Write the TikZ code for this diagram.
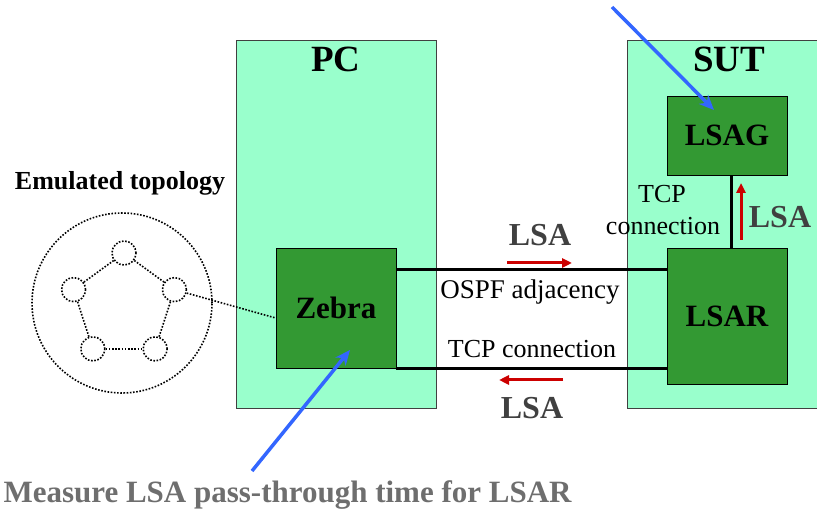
\documentclass[tikz,border=0pt]{standalone}
\usepackage{fontspec}
\setmainfont{Liberation Serif}[BoldFont={Liberation Serif Bold}]
\usetikzlibrary{arrows.meta,calc}

\definecolor{mint}{HTML}{99FFCC}
\definecolor{procgreen}{HTML}{339933}
\definecolor{lsared}{HTML}{CC0000}
\definecolor{markblue}{HTML}{3366FF}
\definecolor{lsagray}{HTML}{404040}
\definecolor{notegray}{HTML}{6E6E6E}

\tikzset{
  hostbox/.style={draw=black!75, fill=mint, line width=0.8pt, inner sep=0pt},
  hostlabel/.style={anchor=base, font=\fontsize{37}{37}\selectfont\bfseries},
  procbox/.style={draw=black, fill=procgreen, line width=0.8pt, inner sep=0pt,
    font=\fontsize{31}{31}\selectfont\bfseries},
  link/.style={line width=3pt},
  dotline/.style={line width=1.6pt, dash pattern=on 1.6pt off 1.6pt},
  router/.style={circle, dotline, draw, minimum size=24pt, inner sep=0pt},
  lsaflow/.style={lsared, line width=3pt, -{Triangle[length=10pt,width=9pt]}},
  lsalabel/.style={anchor=base, text=lsagray, font=\fontsize{32}{32}\selectfont\bfseries},
  plainlabel/.style={anchor=base, font=\fontsize{27}{27}\selectfont},
  measure/.style={markblue, line width=3.5pt, -{Stealth[length=15pt,width=13pt]}}
}

\begin{document}
\begin{tikzpicture}[x=1pt, y=-1pt]
\useasboundingbox (0,0) rectangle (817,510);

% hosts
\node[hostbox, minimum width=200pt, minimum height=368pt] (pc) at (336,224) {};
\node[hostbox, minimum width=190pt, minimum height=368pt] (sut) at (722,224) {};
\node[hostlabel] (pclabel) at (336,72) {PC};
\node[hostlabel] (sutlabel) at (729,72) {SUT};

% processes
\node[procbox, minimum width=120pt, minimum height=120pt] (zebra) at (336,308) {Zebra};
\node[procbox, minimum width=120pt, minimum height=79pt] (lsag) at (727,135.5) {LSAG};
\node[procbox, minimum width=120pt, minimum height=136pt] (lsar) at (727,316) {LSAR};

% links between zebra and lsar
\draw[link] ([yshift=-22pt]zebra.north east) -- ([yshift=-22pt]lsar.north west);
\draw[link] (zebra.south east) -- (zebra.south east -| lsar.west);
\draw[link] ([xshift=4pt]lsag.south) -- ([xshift=4pt]lsag.south |- lsar.north);

\node[plainlabel] (ospf) at (530,299) {OSPF adjacency};
\node[plainlabel, font=\fontsize{26}{26}\selectfont] (tcpbottom) at (532,358) {TCP connection};
\node[plainlabel, font=\fontsize{26}{26}\selectfont] (tcpright) at (662,203) {TCP};
\node[plainlabel, font=\fontsize{26}{26}\selectfont] (connright) at (663,235) {connection};

% LSA flows
\draw[lsaflow] (507,263) -- (572,263);
\draw[lsaflow] (563,380) -- (499,380);
\draw[lsaflow] (741,240) -- (741,183);
\node[lsalabel] (lsatop) at (540,246) {LSA};
\node[lsalabel] (lsabottom) at (532,419) {LSA};
\node[lsalabel] (lsaright) at (780,228) {LSA};

% emulated topology
\node[anchor=base, font=\fontsize{26}{26}\selectfont\bfseries] (emulabel) at (120,190) {Emulated topology};
\node[circle, dotline, draw, minimum size=180pt, inner sep=0pt] (emu) at (122,303) {};
\foreach \i/\a in {1/-90, 2/-162, 3/-234, 4/-306, 5/-378}
  \node[router] (r\i) at ($(124,306)+(\a:53)$) {};
\foreach \i/\j in {1/2, 2/3, 3/4, 4/5, 5/1}
  \draw[dotline] (r\i) -- (r\j);
\draw[dotline] (r5) -- ([yshift=-10pt]zebra.west);

% measurement points
\coordinate (topstart) at (612,7);
\coordinate (lsagmark) at (714,110);
\coordinate (botstart) at (252,471);
\coordinate (zebramark) at (350,350);
\draw[measure] (topstart) -- (lsagmark);
\draw[measure] (botstart) -- (zebramark);
\node[anchor=base west, text=notegray, font=\fontsize{31}{31}\selectfont\bfseries] (note) at (0,502)
  {Measure LSA pass-through time for LSAR};

\end{tikzpicture}
\end{document}
